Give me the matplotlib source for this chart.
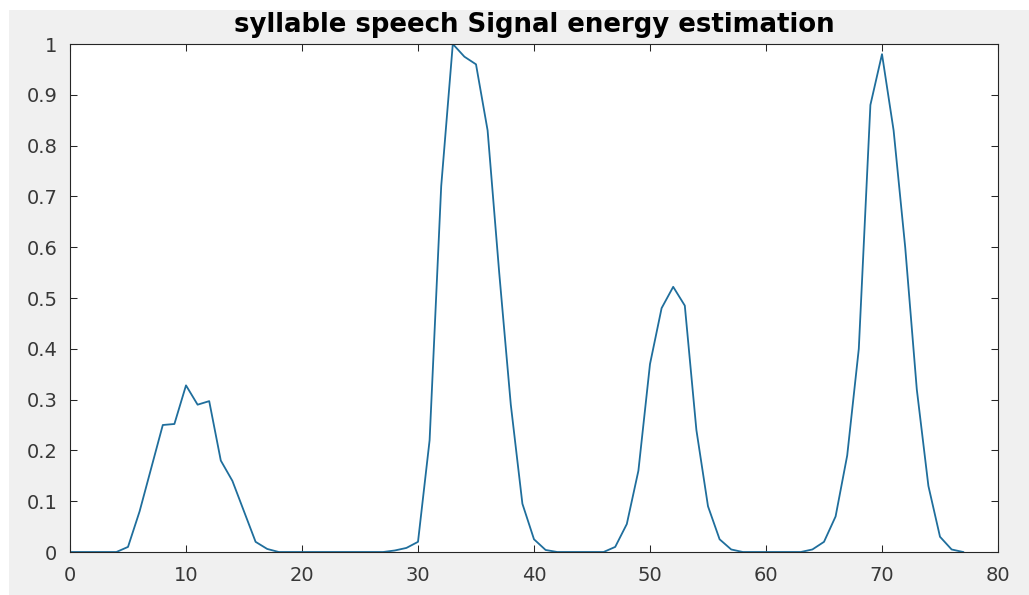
import matplotlib
matplotlib.use("Agg")
import matplotlib.pyplot as plt
from matplotlib.patches import Rectangle
import numpy as np

# ---- data ----
frame_index = list(range(0, 78))
energy = [
    0, 0, 0, 0, 0,                      # 0-4
    0.01, 0.08, 0.165, 0.25, 0.252,     # 5-9
    0.328, 0.29, 0.297, 0.18, 0.14,     # 10-14
    0.08, 0.02, 0.006, 0, 0,            # 15-19
    0, 0, 0, 0, 0,                      # 20-24
    0, 0, 0, 0.003, 0.008,              # 25-29
    0.02, 0.22, 0.72, 1.0, 0.975,       # 30-34
    0.96, 0.83, 0.55, 0.29, 0.095,      # 35-39
    0.025, 0.004, 0, 0, 0,              # 40-44
    0, 0, 0.01, 0.055, 0.16,            # 45-49
    0.37, 0.48, 0.522, 0.485, 0.24,     # 50-54
    0.09, 0.025, 0.005, 0, 0,           # 55-59
    0, 0, 0, 0, 0.005,                  # 60-64
    0.02, 0.07, 0.19, 0.4, 0.88,        # 65-69
    0.98, 0.83, 0.6, 0.32, 0.13,        # 70-74
    0.03, 0.005, 0,                     # 75-77
]
x_ticks = [0, 10, 20, 30, 40, 50, 60, 70, 80]
y_ticks = [0, 0.1, 0.2, 0.3, 0.4, 0.5, 0.6, 0.7, 0.8, 0.9, 1.0]
y_tick_labels = ["0", "0.1", "0.2", "0.3", "0.4", "0.5", "0.6", "0.7", "0.8", "0.9", "1"]
title_text = "syllable speech Signal energy estimation"

W, H = 1029, 595
fig = plt.figure(figsize=(W / 100, H / 100), dpi=100, facecolor="white")
# MATLAB-like gray figure area (white margin on top and left)
fig.patches.append(Rectangle((9 / W, 0), 1, (H - 10) / H, transform=fig.transFigure,
                             facecolor="#f0f0f0", edgecolor="none", zorder=-10))

ax = fig.add_axes([70 / W, (H - 552) / H, (998 - 70) / W, (552 - 44) / H])
ax.set_facecolor("white")
ax.plot(frame_index, energy, color="#1f6e9c", lw=1.3)

ax.set_xlim(0, 80)
ax.set_ylim(0, 1)
ax.set_xticks(x_ticks)
ax.set_xticklabels([str(v) for v in x_ticks])
ax.set_yticks(y_ticks)
ax.set_yticklabels(y_tick_labels)

tick_color = "#262626"
for s in ax.spines.values():
    s.set_color(tick_color)
    s.set_linewidth(0.8)
ax.tick_params(direction="in", top=True, right=True, length=5, width=0.75,
               colors=tick_color, labelcolor="#383838", labelsize=14)
ax.tick_params(axis="y", pad=9)
ax.tick_params(axis="x", pad=10)
for lab in ax.get_xticklabels() + ax.get_yticklabels():
    lab.set_family("DejaVu Sans")

t = ax.set_title(title_text, fontsize=16, fontweight="bold", family="DejaVu Sans",
                 color="black", pad=9)
# fit title width to reference (~604 px)
fig.canvas.draw()
r = fig.canvas.get_renderer()
w = t.get_window_extent(r).width
t.set_fontsize(16 * 604 / w)

fig.savefig("out.png", dpi=100, facecolor=fig.get_facecolor())
